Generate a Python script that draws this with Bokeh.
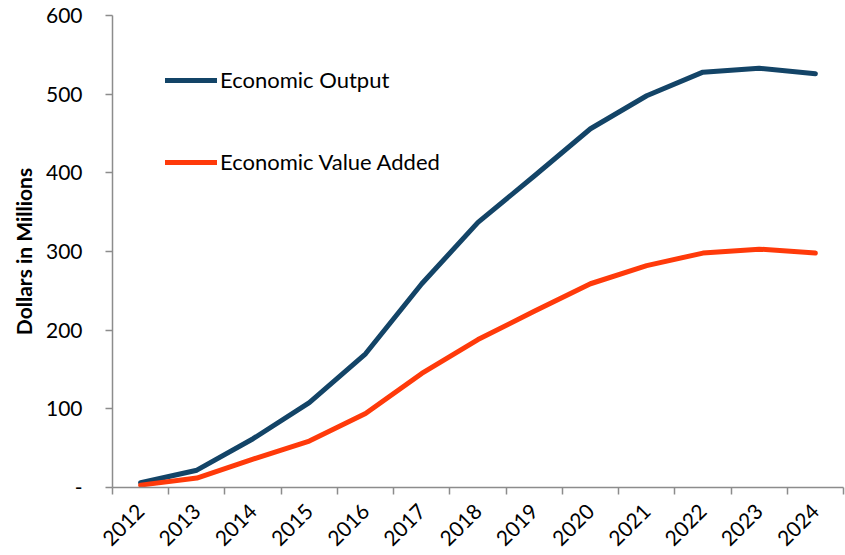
import numpy as np
from bokeh.plotting import figure
from bokeh.models import Range1d, FixedTicker, Legend, LegendItem
from bokeh.embed import file_html
from bokeh.resources import INLINE

years = ["2012", "2013", "2014", "2015", "2016", "2017", "2018",
         "2019", "2020", "2021", "2022", "2023", "2024"]
economic_output = [6, 22, 62, 108, 170, 259, 337, 396, 456, 498, 528, 533, 526]
value_added = [3, 12, 36, 59, 94, 145, 188, 224, 259, 282, 298, 303, 298]
y_ticks = [0, 100, 200, 300, 400, 500, 600]
y_tick_labels = ["-", "100", "200", "300", "400", "500", "600"]

FONT = "Lato"
AXIS_COLOR = "#8C8C8C"
BLUE = "#134467"
RED = "#FF3A0A"

xs = list(np.arange(len(years)) + 0.5)

p = figure(width=845, height=555, output_backend="svg", toolbar_location=None,
           x_range=Range1d(0, len(years)), y_range=Range1d(0, 600),
           min_border_left=112, min_border_right=2, min_border_top=15,
           min_border_bottom=68)
p.outline_line_color = None
p.grid.visible = False
p.background_fill_color = "white"
p.border_fill_color = "white"

r1 = p.line(xs, economic_output, line_color=BLUE, line_width=5,
            line_cap="round", line_join="round")
r2 = p.line(xs, value_added, line_color=RED, line_width=5,
            line_cap="round", line_join="round")

# x axis
p.xaxis.ticker = FixedTicker(ticks=xs, minor_ticks=list(range(len(years) + 1)))
p.xaxis.major_label_overrides = {x: y for x, y in zip(xs, years)}
p.xaxis.major_tick_out = 0
p.xaxis.major_tick_in = 0
p.xaxis.minor_tick_out = 7
p.xaxis.minor_tick_in = 0
p.xaxis.minor_tick_line_color = AXIS_COLOR
p.xaxis.minor_tick_line_width = 1.5
p.xaxis.axis_line_color = AXIS_COLOR
p.xaxis.axis_line_width = 1.5
p.xaxis.major_label_orientation = np.pi / 4
p.xaxis.major_label_standoff = 13
p.xaxis.major_label_text_font = FONT
p.xaxis.major_label_text_font_size = "21px"
p.xaxis.major_label_text_color = "black"

# y axis
p.yaxis.ticker = FixedTicker(ticks=y_ticks, minor_ticks=[])
p.yaxis.major_label_overrides = {t: l for t, l in zip(y_ticks, y_tick_labels)}
p.yaxis.major_tick_out = 7
p.yaxis.major_tick_in = 0
p.yaxis.major_tick_line_color = AXIS_COLOR
p.yaxis.major_tick_line_width = 1.5
p.yaxis.axis_line_color = AXIS_COLOR
p.yaxis.axis_line_width = 1.5
p.yaxis.major_label_standoff = 23
p.yaxis.major_label_text_font = FONT
p.yaxis.major_label_text_font_size = "21px"
p.yaxis.major_label_text_color = "black"
p.yaxis.axis_label = "Dollars in Millions"
p.yaxis.axis_label_text_font = FONT
p.yaxis.axis_label_text_font_style = "bold"
p.yaxis.axis_label_text_font_size = "21px"
p.yaxis.axis_label_text_color = "black"
p.yaxis.axis_label_standoff = 7

legend = Legend(items=[LegendItem(label="Economic Output", renderers=[r1]),
                       LegendItem(label="Economic Value Added", renderers=[r2])],
                location=(53, 312), orientation="vertical",
                glyph_width=52, glyph_height=24, label_height=24,
                label_standoff=3, spacing=55, padding=0, margin=0,
                border_line_alpha=0, background_fill_alpha=0,
                label_text_font=FONT, label_text_font_size="22px",
                label_text_color="black")
p.add_layout(legend)

open("out.html", "w").write(file_html(p, INLINE))
